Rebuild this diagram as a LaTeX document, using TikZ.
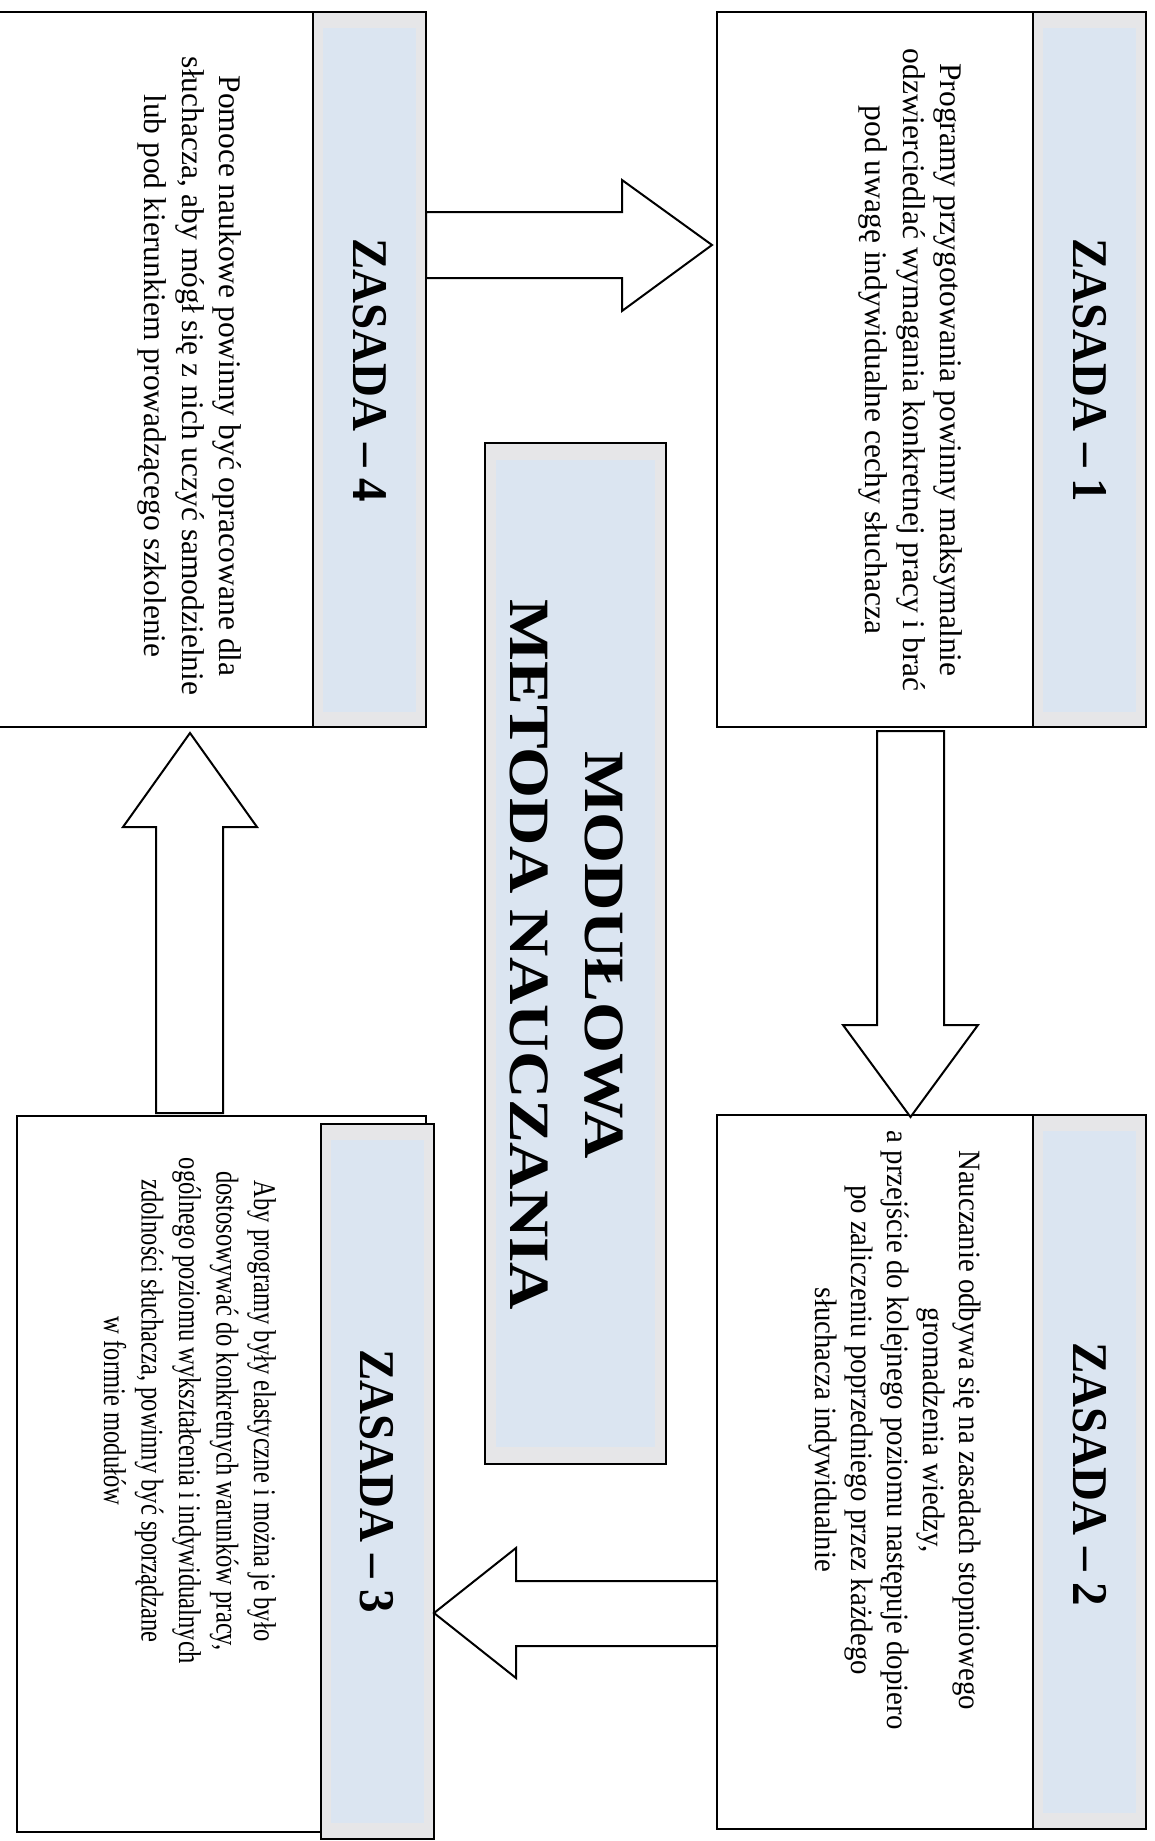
\documentclass[tikz,border=0pt]{standalone}
\usepackage{fontspec}
\setmainfont{Liberation Serif}
\newfontfamily\narrowA[FakeStretch=0.93]{Liberation Serif}
\newfontfamily\narrowB[FakeStretch=0.78]{Liberation Serif}
\newfontfamily\narrowH[FakeStretch=0.94]{Liberation Serif}
\newfontfamily\wideT[FakeStretch=1.15]{Liberation Serif}
\definecolor{framegray}{RGB}{230,230,232}
\definecolor{paleblue}{RGB}{219,229,241}

\begin{document}
\begin{tikzpicture}[x=0.5pt,y=-0.5pt,
  panel/.style={draw=black, line width=1.2pt, fill=white},
  strip/.style={draw=black, line width=1.2pt, fill=framegray},
  stripin/.style={fill=paleblue},
  blockarrow/.style={draw=black, line width=1pt, fill=white, line join=miter},
  headtext/.style={rotate=-90, inner sep=0pt, font=\narrowH\bfseries\fontsize{25}{27}\selectfont},
  bodytext/.style={rotate=-90, inner sep=0pt, align=center},
]
\useasboundingbox (0,0) rectangle (1155,1841);
\fill[white] (0,0) rectangle (1155,1841);

% ---------- panel 4 (top left) ----------
\path (-8,12) coordinate (p4nw) (426,727) coordinate (p4se);
\draw[panel] (p4nw) rectangle (p4se);
\draw[strip] (313,12) rectangle (426,727);
\fill[stripin] (323,28) rectangle (416,712);
\node[headtext] (h4) at (370,370) {ZASADA – 4};
\node[bodytext, font=\fontsize{15.75}{18.75}\selectfont] (t4) at (190,376)
  {Pomoce naukowe powinny być opracowane dla\\
   słuchacza, aby mógł się z nich uczyć samodzielnie\\
   lub pod kierunkiem prowadzącego szkolenie};

% ---------- panel 1 (top right) ----------
\path (717,12) coordinate (p1nw) (1146,727) coordinate (p1se);
\draw[panel] (p1nw) rectangle (p1se);
\draw[strip] (1033,12) rectangle (1146,727);
\fill[stripin] (1043,28) rectangle (1136,712);
\node[headtext] (h1) at (1090,370) {ZASADA – 1};
\node[bodytext, font=\fontsize{15.75}{18.75}\selectfont] (t1) at (911,370)
  {Programy przygotowania powinny maksymalnie\\
   odzwierciedlać wymagania konkretnej pracy i brać\\
   pod uwagę indywidualne cechy słuchacza};

% ---------- panel 2 (bottom right) ----------
\path (717,1115) coordinate (p2nw) (1146,1829) coordinate (p2se);
\draw[panel] (p2nw) rectangle (p2se);
\draw[strip] (1033,1115) rectangle (1146,1829);
\fill[stripin] (1043,1131) rectangle (1136,1813);
\node[headtext] (h2) at (1090,1474) {ZASADA – 2};
\node[bodytext, font=\narrowA\fontsize{15.5}{18}\selectfont] (t2) at (895,1430)
  {Nauczanie odbywa się na zasadach stopniowego\\
   gromadzenia wiedzy,\\
   a przejście do kolejnego poziomu następuje dopiero\\
   po zaliczeniu poprzedniego przez każdego\\
   słuchacza indywidualnie};

% ---------- panel 3 (bottom left) ----------
\path (17,1116) coordinate (p3nw) (426,1832) coordinate (p3se);
\draw[panel] (p3nw) rectangle (p3se);
\draw[strip] (321,1124) rectangle (434,1839);
\fill[stripin] (331,1140) rectangle (424,1823);
\node[headtext] (h3) at (377,1481) {ZASADA – 3};
\node[bodytext, font=\narrowB\fontsize{15.75}{18.75}\selectfont] (t3) at (190,1411)
  {Aby programy były elastyczne i można je było\\
   dostosowywać do konkretnych warunków pracy,\\
   ogólnego poziomu wykształcenia i indywidualnych\\
   zdolności słuchacza, powinny być sporządzane\\
   w formie modułów};

% ---------- central title ----------
\draw[strip] (485,443) rectangle (666,1464);
\fill[stripin] (496,460) rectangle (655,1447);
\node[bodytext, font=\wideT\bfseries\fontsize{28.5}{37.5}\selectfont] (title) at (567,955)
  {MODUŁOWA\\METODA NAUCZANIA};

% ---------- block arrows between the panels ----------
% 4 -> 1
\draw[blockarrow] (426,212) -- (622,212) -- (622,180) -- (712,245)
  -- (622,311) -- (622,278) -- (426,278) -- cycle;
% 1 -> 2
\draw[blockarrow] (877,731) -- (944,731) -- (944,1025) -- (978,1025)
  -- (910.5,1117) -- (843,1025) -- (877,1025) -- cycle;
% 2 -> 3
\draw[blockarrow] (717,1581) -- (516,1581) -- (516,1548) -- (434,1613)
  -- (516,1678) -- (516,1646) -- (717,1646) -- cycle;
% 3 -> 4
\draw[blockarrow] (156,1113) -- (156,827) -- (123,827) -- (190,733)
  -- (257,827) -- (223,827) -- (223,1113) -- cycle;
\end{tikzpicture}
\end{document}
